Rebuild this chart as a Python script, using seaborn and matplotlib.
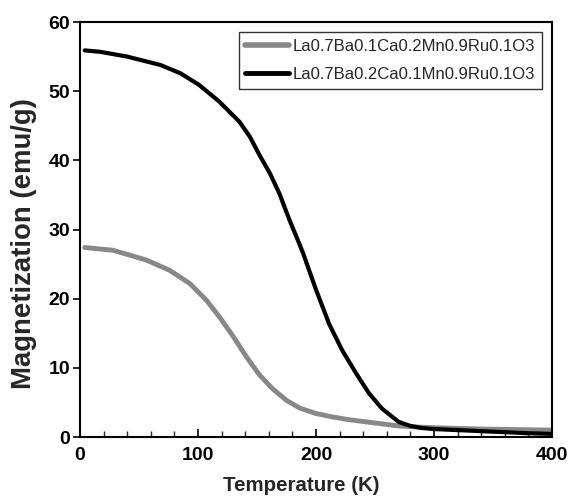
import matplotlib
matplotlib.use("Agg")
import matplotlib.pyplot as plt
from matplotlib.ticker import MultipleLocator
import seaborn as sns
import pandas as pd

# Ba0.1 / Ca0.2 sample (grey)
temp_a = [4, 28, 56, 76, 93, 107, 118, 130, 141, 152, 163, 175, 186, 200, 214,
          228, 242, 256, 270, 285, 300, 320, 340, 360, 380, 400]
mag_a = [27.4, 27.0, 25.6, 24.1, 22.2, 19.8, 17.4, 14.5, 11.6, 9.0, 7.0, 5.3, 4.2,
         3.4, 2.9, 2.5, 2.2, 1.9, 1.6, 1.45, 1.35, 1.25, 1.15, 1.1, 1.05, 1.0]

# Ba0.2 / Ca0.1 sample (black)
temp_b = [4, 17, 40, 68, 85, 101, 118, 135, 144, 152, 161, 169, 177, 185, 189,
          200, 211, 222, 234, 245, 256, 270, 280, 290, 300, 320, 340, 360, 380, 400]
mag_b = [55.9, 55.7, 55.0, 53.8, 52.6, 50.9, 48.5, 45.6, 43.4, 40.8, 38.1, 35.2,
         31.6, 28.3, 26.6, 21.3, 16.4, 12.6, 9.2, 6.3, 4.1, 2.2, 1.6, 1.3, 1.15,
         1.0, 0.85, 0.7, 0.55, 0.45]

labels = ["La0.7Ba0.1Ca0.2Mn0.9Ru0.1O3", "La0.7Ba0.2Ca0.1Mn0.9Ru0.1O3"]

df = pd.concat([
    pd.DataFrame({"T": temp_a, "M": mag_a, "sample": labels[0]}),
    pd.DataFrame({"T": temp_b, "M": mag_b, "sample": labels[1]}),
])

sns.set_style("ticks")
plt.rcParams["font.family"] = ["Liberation Sans", "DejaVu Sans"]

fig = plt.figure(figsize=(5.7, 5.01), dpi=100)
ax = fig.add_axes([0.1404, 0.1277, 0.8280, 0.8283])

sns.lineplot(data=df, x="T", y="M", hue="sample", palette=["#888888", "black"],
             linewidth=3, sort=False, ax=ax)
# grey curve is drawn a bit heavier
ax.lines[0].set_linewidth(3.5)

ax.set_xlim(0, 400)
ax.set_ylim(0, 60)
ax.xaxis.set_major_locator(MultipleLocator(100))
ax.xaxis.set_minor_locator(MultipleLocator(20))
ax.yaxis.set_major_locator(MultipleLocator(10))
ax.tick_params(axis="x", which="major", direction="in", length=5.5, width=1.2, pad=7)
ax.tick_params(axis="x", which="minor", direction="in", length=4.5, width=1)
ax.tick_params(axis="y", which="major", direction="out", length=5, width=1.2, pad=2)
ax.tick_params(labelsize=14, colors="black")
for lbl in ax.get_xticklabels() + ax.get_yticklabels():
    lbl.set_fontweight("bold")
for sp in ax.spines.values():
    sp.set_visible(True)
    sp.set_linewidth(1.5)
    sp.set_color("black")

ax.set_xlabel("Temperature (K)", fontsize=14.8, fontweight="bold")
ax.set_ylabel("Magnetization (emu/g)", fontsize=19.8, fontweight="bold")
ax.xaxis.set_label_coords(0.468, -0.094)
ax.yaxis.set_label_coords(-0.092, 0.467)

leg = ax.legend(loc="upper right", fontsize=12, frameon=True, fancybox=False,
                edgecolor="black", handlelength=2.6, borderaxespad=0.6,
                handletextpad=0.25, labelspacing=0.8, borderpad=0.4)
leg.get_frame().set_linewidth(1)
leg.get_lines()[0].set_linewidth(4)
leg.get_lines()[1].set_linewidth(3.5)

fig.savefig("out.png", dpi=100)
